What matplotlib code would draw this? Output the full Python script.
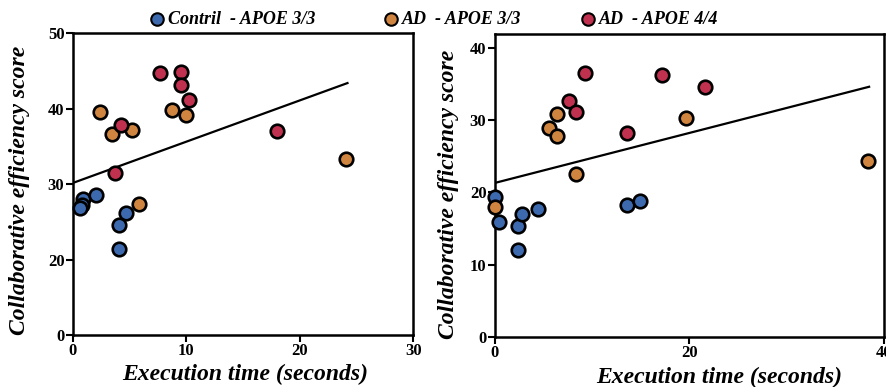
import numpy as np
import matplotlib
matplotlib.use("Agg")
import matplotlib.pyplot as plt

plt.rcParams["font.family"] = ["Liberation Serif", "DejaVu Serif"]

COLORS = {"ctrl": "#3d69ae", "ad33": "#cf853f", "ad44": "#c0304f"}
LABELS = {"ctrl": "Contril  - APOE 3/3", "ad33": "AD  - APOE 3/3", "ad44": "AD  - APOE 4/4"}

# left panel (y axis drawn from 10, bottom tick labelled "0" as in the source figure)
left_ctrl_x = [0.94, 0.82, 0.68, 2.09, 4.73, 4.08, 4.08]
left_ctrl_y = [28.0, 27.2, 26.8, 28.5, 26.2, 24.6, 21.4]
left_ad33_x = [2.41, 3.44, 5.26, 8.72, 9.98, 24.1, 5.81]
left_ad33_y = [39.6, 36.6, 37.2, 39.8, 39.1, 33.3, 27.3]
left_ad44_x = [7.73, 9.52, 9.58, 10.22, 4.29, 18.03, 3.76]
left_ad44_y = [44.7, 44.9, 43.1, 41.2, 37.8, 37.0, 31.5]
left_fit_x = [0.0, 24.2]
left_fit_y = [30.15, 43.4]
left_yticks = [10, 20, 30, 40, 50]
left_yticklabels = ["0", "20", "30", "40", "50"]
left_xticks = [0, 10, 20, 30]

# right panel
right_ctrl_x = [0.0, 0.44, 2.43, 2.84, 4.48, 2.43, 13.6, 14.9]
right_ctrl_y = [19.3, 15.9, 15.4, 17.0, 17.7, 12.0, 18.2, 18.8]
right_ad33_x = [6.4, 5.6, 6.4, 8.4, 19.7, 38.4, 0.0]
right_ad33_y = [30.9, 28.9, 27.8, 22.5, 30.3, 24.4, 18.0]
right_ad44_x = [9.24, 17.2, 21.6, 7.6, 8.4, 13.6]
right_ad44_y = [36.5, 36.2, 34.6, 32.6, 31.1, 28.2]
right_fit_x = [0.0, 38.5]
right_fit_y = [21.3, 34.6]
right_yticks = [0, 10, 20, 30, 40]
right_xticks = [0, 20, 40]

fig = plt.figure(figsize=(8.86, 3.87), dpi=100)
ax1 = fig.add_axes([0.0821, 0.1344, 0.3844, 0.7796])
ax2 = fig.add_axes([0.5584, 0.1292, 0.4390, 0.7830])

label_font = dict(fontsize=17, fontweight="bold", fontstyle="italic")


def style_axes(ax):
    for sp in ax.spines.values():
        sp.set_linewidth(1.8)
        sp.set_color("black")
    ax.tick_params(width=1.5, length=5, direction="out", labelsize=12, pad=1)
    for lab in ax.get_xticklabels() + ax.get_yticklabels():
        lab.set_fontweight("bold")


def scatter_groups(ax, data):
    for key, xs, ys in data:
        ax.scatter(xs, ys, s=95, c=COLORS[key], edgecolors="black", linewidths=1.9,
                   zorder=3, clip_on=False)


# left
scatter_groups(ax1, [("ctrl", left_ctrl_x, left_ctrl_y),
                     ("ad33", left_ad33_x, left_ad33_y),
                     ("ad44", left_ad44_x, left_ad44_y)])
ax1.plot(left_fit_x, left_fit_y, color="black", lw=1.6, zorder=2)
ax1.set_xlim(0, 30)
ax1.set_ylim(10, 50)
ax1.set_xticks(left_xticks)
ax1.set_yticks(left_yticks)
ax1.set_yticklabels(left_yticklabels)
style_axes(ax1)
ax1.set_xlabel("Execution time (seconds)", va="center", **label_font)
ax1.xaxis.set_label_coords(0.506, -0.132)
ax1.set_ylabel("Collaborative efficiency score", va="center", **label_font)
ax1.yaxis.set_label_coords(-0.155, 0.48)

# right
scatter_groups(ax2, [("ctrl", right_ctrl_x, right_ctrl_y),
                     ("ad33", right_ad33_x, right_ad33_y),
                     ("ad44", right_ad44_x, right_ad44_y)])
ax2.plot(right_fit_x, right_fit_y, color="black", lw=1.6, zorder=2)
ax2.set_xlim(0, 40)
ax2.set_ylim(0, 41.9)
ax2.set_xticks(right_xticks)
ax2.set_yticks(right_yticks)
style_axes(ax2)
ax2.set_xlabel("Execution time (seconds)", va="center", **label_font)
ax2.xaxis.set_label_coords(0.577, -0.135)
ax2.set_ylabel("Collaborative efficiency score", va="center", **label_font)
ax2.yaxis.set_label_coords(-0.12, 0.47)

# legend across the top
legend_pos = {"ctrl": 157, "ad33": 391, "ad44": 588}
W, H = fig.get_size_inches() * fig.dpi
for key, px in legend_pos.items():
    fig.add_artist(plt.Line2D([px / W], [1 - 19 / H], marker="o", markersize=9,
                              markerfacecolor=COLORS[key], markeredgecolor="black",
                              markeredgewidth=1.5, linestyle="none",
                              transform=fig.transFigure))
    fig.text((px + 11) / W, 1 - 19 / H, LABELS[key], fontsize=13, fontweight="bold",
             fontstyle="italic", va="center", ha="left")

fig.savefig("out.png", dpi=100)
